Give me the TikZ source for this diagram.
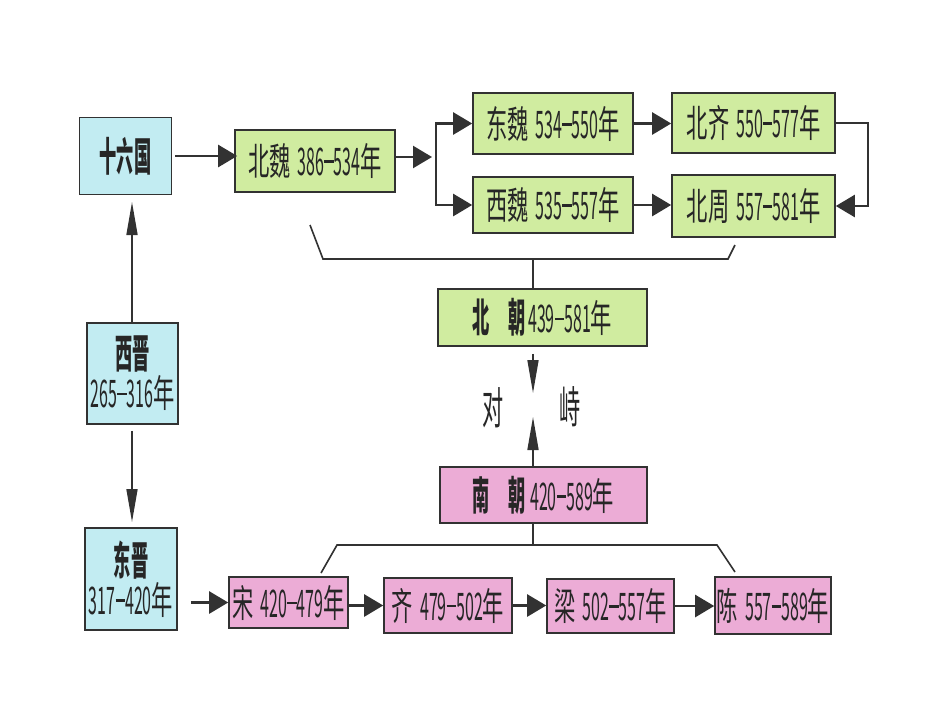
\documentclass[tikz,border=0pt]{standalone}
\usepackage{fontspec}
\setmainfont{Noto Sans CJK SC}
\usepackage{graphicx}
\usetikzlibrary{arrows.meta}
\definecolor{bblue}{RGB}{194,236,242}
\definecolor{bgreen}{RGB}{208,236,160}
\definecolor{bpink}{RGB}{236,172,214}
\definecolor{edge}{RGB}{50,50,50}
\newcommand\cj[1]{\scalebox{0.56}[1]{\fontsize{38}{38}\selectfont #1}}
\newcommand\bj[1]{\scalebox{0.43}[1]{\fontsize{40}{40}\selectfont\bfseries #1}}
\newcommand\ds{\rule[0.33em]{0.6em}{0.07em}}
\newcommand\nm[2]{\scalebox{0.42}[1]{\fontsize{38}{38}\selectfont #1\ds #2}}
\begin{document}
\begin{tikzpicture}[x=1pt,y=-1pt,
  box/.style={draw=edge, line width=1.6pt, inner sep=0pt, align=center, text=black!85},
  bluebox/.style={box, fill=bblue},
  greenbox/.style={box, fill=bgreen},
  pinkbox/.style={box, fill=bpink},
  harr/.style={line width=2.4pt, draw=edge, -{Triangle[length=19pt,width=22pt]}},
  varr/.style={line width=1.6pt, draw=edge, -{Triangle[length=33pt,width=11pt]}},
  brk/.style={line width=1.6pt, draw=edge},
  lbl/.style={inner sep=0pt, text=black!85}]
\useasboundingbox[fill=white] (0,0) rectangle (950,713);

% left column
\node[bluebox, minimum width=92pt, minimum height=77pt] (sl) at (125.5,156) {\bj{十六国}};
\node[bluebox, minimum width=91pt, minimum height=101pt] (xj) at (132.5,373.5) {\bj{西晋}\\[2pt]\nm{265}{316}\cj{年}};
\node[bluebox, minimum width=92pt, minimum height=102pt] (dj) at (131,579) {\bj{东晋}\\[2pt]\nm{317}{420}\cj{年}};

% northern dynasties
\node[greenbox, minimum width=160pt, minimum height=62pt] (bw) at (315,161) {\cj{北魏}\hspace{7pt}\nm{386}{534}\cj{年}};
\node[greenbox, minimum width=160pt, minimum height=61pt] (dw) at (553,123.5) {\cj{东魏}\hspace{7pt}\nm{534}{550}\cj{年}};
\node[greenbox, minimum width=163pt, minimum height=60pt] (bq) at (753.5,123) {\cj{北齐}\hspace{7pt}\nm{550}{577}\cj{年}};
\node[greenbox, minimum width=160pt, minimum height=56pt] (xw) at (553,205) {\cj{西魏}\hspace{7pt}\nm{535}{557}\cj{年}};
\node[greenbox, minimum width=163pt, minimum height=62pt] (bz) at (753.5,206) {\cj{北周}\hspace{7pt}\nm{557}{581}\cj{年}};
\node[greenbox, minimum width=209pt, minimum height=57pt] (bc) at (542.5,317.5) {\bj{北}\hspace{18pt}\bj{朝}\hspace{3pt}\nm{439}{581}\cj{年}};

% southern dynasties
\node[pinkbox, minimum width=207pt, minimum height=56pt] (nc) at (543.5,495) {\bj{南}\hspace{18pt}\bj{朝}\hspace{5pt}\nm{420}{589}\cj{年}};
\node[pinkbox, minimum width=119pt, minimum height=51pt] (song) at (288.5,602.5) {\cj{宋}\hspace{7pt}\nm{420}{479}\cj{年}};
\node[pinkbox, minimum width=128pt, minimum height=55pt] (qi) at (448,605.5) {\cj{齐}\hspace{7pt}\nm{479}{502}\cj{年}};
\node[pinkbox, minimum width=127pt, minimum height=54pt] (liang) at (610.5,606) {\cj{梁}\hspace{7pt}\nm{502}{557}\cj{年}};
\node[pinkbox, minimum width=116pt, minimum height=57pt] (chen) at (773,605.5) {\cj{陈}\hspace{7pt}\nm{557}{589}\cj{年}};

% 对峙
\node[lbl] (dui) at (493,408) {\scalebox{0.48}[1]{\fontsize{44}{44}\selectfont 对}};
\node[lbl] (zhi) at (570,407) {\scalebox{0.48}[1]{\fontsize{44}{44}\selectfont 峙}};

% coordinates
\coordinate (sp) at (436,157);
\coordinate (ub) at (533,259);
\coordinate (dt) at (533,393);
\coordinate (ut) at (533,417);
\coordinate (lb) at (533,545);
\coordinate (t1) at (132,202);
\coordinate (t2) at (132,522);

% connectors top
\draw[harr] ([xshift=3pt]sl.east) -- ([xshift=3pt]sl.east -| bw.west);
\draw[harr] (bw.east |- sp) -- ([xshift=-4pt]sp);
\draw[harr] (sp) |- (dw.west);
\draw[harr] (sp) |- (xw.west);
\draw[harr] (dw.east) -- (dw.east -| bq.west);
\draw[harr] (xw.east) -- (xw.east -| bz.west);
\draw[harr] (bq.east) -- ++(32,0) |- (bz.east);

% upper bracket
\draw[brk] (310,225) -- (323,259) -- (728,259) -- (735,245);
\draw[brk] (ub) -- (ub |- bc.north);

% confrontation arrows
\draw[varr] (bc.south -| dt) ++(0,7) -- (dt);
\draw[varr] (nc.north -| ut) -- (ut);

% lower bracket
\draw[brk] (nc.south -| lb) -- (lb);
\draw[brk] (321,573) -- (337,545) -- (717,545) -- (735,572);

% left column arrows
\draw[varr] (xj.north -| t1) -- (t1);
\draw[varr] (xj.south -| t2) ++(0,6) -- (t2);

% bottom row
\draw[harr] (dj.east |- song.west) ++(13,0) -- (song.west);
\draw[harr] (qi.west -| song.east) -- (qi.west);
\draw[harr] (qi.east) -- (qi.east -| liang.west);
\draw[harr] (liang.east) -- (liang.east -| chen.west);
\end{tikzpicture}
\end{document}
